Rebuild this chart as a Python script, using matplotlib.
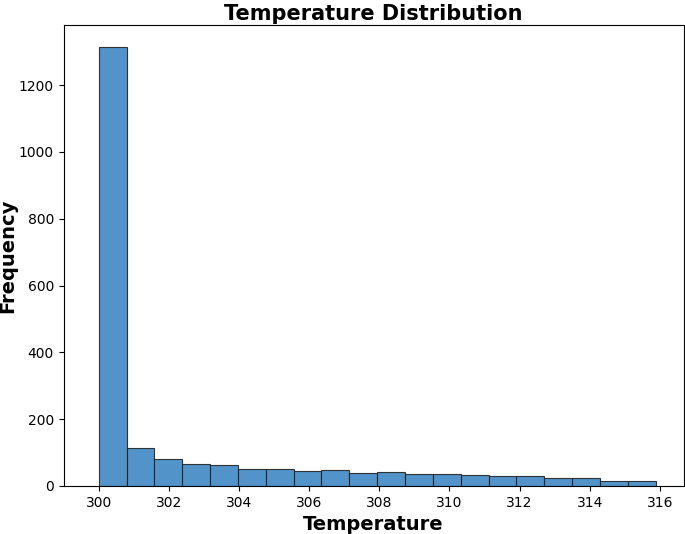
import matplotlib
matplotlib.use("Agg")
import matplotlib.pyplot as plt
import numpy as np

bin_start = 300.0
bin_width = 0.794
counts = [1314, 113, 80, 66, 62, 51, 52, 45, 49, 40, 42, 37, 37, 34, 30, 30, 25, 25, 16, 16]
xticks = [300, 302, 304, 306, 308, 310, 312, 314, 316]

edges = bin_start + bin_width * np.arange(len(counts) + 1)

fig = plt.figure(figsize=(6.85, 5.34), dpi=100)
ax = fig.add_axes([0.093, 0.09, 0.905, 0.863])
ax.bar(edges[:-1], counts, width=bin_width, align='edge', color='#3f88c5', alpha=0.9,
       edgecolor='#222222', linewidth=0.8)
ax.set_xlim(299.0, 316.68)
ax.set_ylim(0, 1380)
ax.set_xticks(xticks)
ax.set_yticks([0, 200, 400, 600, 800, 1000, 1200])
ax.set_title('Temperature Distribution', fontsize=15, fontweight='bold', pad=4)
ax.set_xlabel('Temperature', fontsize=14, fontweight='bold')
ax.set_ylabel('Frequency', fontsize=14, fontweight='bold', labelpad=1)
fig.savefig('out.png', dpi=100)
